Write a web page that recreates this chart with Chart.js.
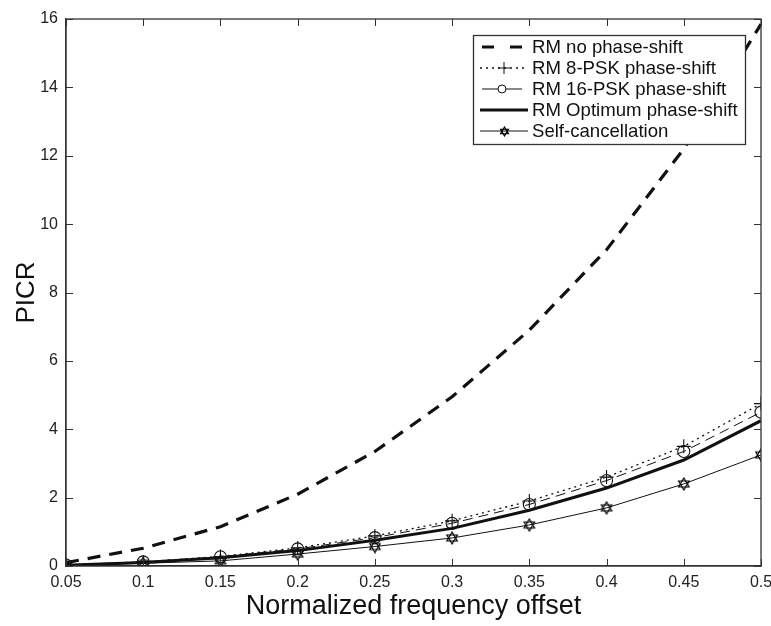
<!DOCTYPE html>
<html>
<head>
<meta charset="utf-8">
<script src="https://cdn.jsdelivr.net/npm/chart.js@4/dist/chart.umd.min.js"></script>
<style>
  html, body { margin: 0; padding: 0; background: #fff; }
</style>
</head>
<body>
<canvas id="myChart" width="771" height="626"></canvas>
<script>
const offsets = [0.05, 0.1, 0.15, 0.2, 0.25, 0.3, 0.35, 0.4, 0.45, 0.5];
const noShift = [0.1, 0.52, 1.15, 2.1, 3.35, 4.95, 6.9, 9.25, 12.2, 15.85];
const psk8 = [0.03, 0.12, 0.28, 0.53, 0.88, 1.32, 1.9, 2.6, 3.5, 4.75];
const psk16 = [0.03, 0.12, 0.27, 0.5, 0.83, 1.25, 1.8, 2.5, 3.35, 4.5];
const optimum = [0.02, 0.1, 0.24, 0.45, 0.75, 1.1, 1.63, 2.28, 3.1, 4.25];
const selfCancel = [0.02, 0.08, 0.15, 0.35, 0.57, 0.82, 1.2, 1.7, 2.4, 3.25];
const seriesNames = ['RM no phase-shift', 'RM 8-PSK phase-shift', 'RM 16-PSK phase-shift',
  'RM Optimum phase-shift', 'Self-cancellation'];
const xTicks = [0.05, 0.1, 0.15, 0.2, 0.25, 0.3, 0.35, 0.4, 0.45, 0.5];
const yTicks = [0, 2, 4, 6, 8, 10, 12, 14, 16];

const FONT = '"Liberation Sans", Arial, Helvetica, sans-serif';
const INK = '#111';

// hollow hexagram marker, used by the self-cancellation curve
function hexagram(size) {
  const c = document.createElement('canvas');
  c.width = c.height = size;
  const g = c.getContext('2d');
  const r = size / 2 - 1, cx = size / 2, cy = size / 2;
  g.strokeStyle = '#000';
  g.lineWidth = 1.2;
  [-Math.PI / 2, Math.PI / 2].forEach(rot => {
    g.beginPath();
    for (let i = 0; i < 3; i++) {
      const a = rot + i * 2 * Math.PI / 3;
      const px = cx + r * Math.cos(a), py = cy + r * Math.sin(a);
      if (i) g.lineTo(px, py); else g.moveTo(px, py);
    }
    g.closePath();
    g.stroke();
  });
  return c;
}
const star = hexagram(14);
const smallStar = hexagram(11);

const pts = vals => offsets.map((x, i) => ({ x: x, y: vals[i] }));

const datasets = [
  { label: seriesNames[0], data: pts(noShift), borderWidth: 3.2, borderDash: [13, 9], pointRadius: 0 },
  { label: seriesNames[1], data: pts(psk8), borderWidth: 1.3, borderDash: [2, 4],
    pointStyle: 'cross', pointRadius: 7, pointBorderWidth: 1.1 },
  { label: seriesNames[2], data: pts(psk16), borderWidth: 1, borderDash: [10, 6],
    pointStyle: 'circle', pointRadius: 6, pointBorderWidth: 1.1 },
  { label: seriesNames[3], data: pts(optimum), borderWidth: 3, pointRadius: 0 },
  { label: seriesNames[4], data: pts(selfCancel), borderWidth: 1, pointStyle: star, pointRadius: 7 }
].map(d => Object.assign({
  borderColor: INK, pointBorderColor: INK, pointBackgroundColor: 'rgba(0,0,0,0)',
  tension: 0, fill: false
}, d));

// box around the plot plus inward ticks on all four sides
const frame = {
  id: 'frame',
  afterDatasetsDraw(chart) {
    const { ctx, chartArea: a, scales: { x, y } } = chart;
    ctx.save();
    ctx.strokeStyle = '#333';
    ctx.lineWidth = 1.3;
    ctx.strokeRect(a.left, a.top, a.right - a.left, a.bottom - a.top);
    ctx.lineWidth = 1;
    ctx.beginPath();
    x.ticks.forEach(t => {
      const px = Math.round(x.getPixelForValue(t.value)) + 0.5;
      ctx.moveTo(px, a.bottom); ctx.lineTo(px, a.bottom - 7);
      ctx.moveTo(px, a.top); ctx.lineTo(px, a.top + 7);
    });
    y.ticks.forEach(t => {
      const py = Math.round(y.getPixelForValue(t.value)) + 0.5;
      ctx.moveTo(a.left, py); ctx.lineTo(a.left + 7, py);
      ctx.moveTo(a.right, py); ctx.lineTo(a.right - 7, py);
    });
    ctx.stroke();
    ctx.restore();
  }
};

// MATLAB style legend box in the upper right
const boxLegend = {
  id: 'boxLegend',
  afterDraw(chart) {
    const { ctx } = chart;
    const left = 473, top = 35, right = 745, bottom = 144, rowH = 21;
    ctx.save();
    ctx.fillStyle = '#fff';
    ctx.fillRect(left, top, right - left, bottom - top);
    ctx.strokeStyle = '#333';
    ctx.lineWidth = 1.3;
    ctx.strokeRect(left + 0.5, top + 0.5, right - left, bottom - top);
    ctx.font = '18.6px ' + FONT;
    ctx.textBaseline = 'middle';
    chart.data.datasets.forEach((ds, i) => {
      const yy = top + 12 + i * rowH;
      const x0 = 480, x1 = 528, xm = (x0 + x1) / 2;
      ctx.strokeStyle = INK;
      ctx.lineWidth = ds.borderWidth;
      ctx.setLineDash(ds.borderDash || []);
      ctx.beginPath();
      if (i === 0) {
        ctx.setLineDash([]);
        ctx.moveTo(x0 + 2, yy); ctx.lineTo(x0 + 14, yy);
        ctx.moveTo(x0 + 30, yy); ctx.lineTo(x0 + 42, yy);
      } else if (i === 2) {
        ctx.setLineDash([]);
        ctx.moveTo(x0 + 2, yy); ctx.lineTo(x1 - 6, yy);
      } else {
        ctx.moveTo(x0, yy); ctx.lineTo(x1, yy);
      }
      ctx.stroke();
      ctx.setLineDash([]);
      ctx.lineWidth = 1;
      if (ds.pointStyle === 'cross') {
        ctx.beginPath();
        ctx.moveTo(xm - 6, yy); ctx.lineTo(xm + 6, yy);
        ctx.moveTo(xm, yy - 6); ctx.lineTo(xm, yy + 6);
        ctx.stroke();
      } else if (ds.pointStyle === 'circle') {
        ctx.fillStyle = '#fff';
        ctx.beginPath();
        ctx.arc(xm - 2, yy, 4, 0, Math.PI * 2);
        ctx.fill(); ctx.stroke();
      } else if (ds.pointStyle === star) {
        ctx.drawImage(smallStar, Math.round(xm - 5.5), Math.round(yy - 5.5));
      }
      ctx.fillStyle = INK;
      ctx.fillText(ds.label, 532, yy + 1);
    });
    ctx.restore();
  }
};

new Chart(document.getElementById('myChart'), {
  type: 'line',
  data: { datasets: datasets },
  plugins: [frame, boxLegend],
  options: {
    responsive: false,
    animation: false,
    layout: { padding: { top: 19, right: 10, left: 0, bottom: 0 } },
    plugins: { legend: { display: false }, tooltip: { enabled: false } },
    scales: {
      x: {
        type: 'linear',
        min: 0.05,
        max: 0.5,
        afterBuildTicks: s => { s.ticks = xTicks.map(v => ({ value: v })); },
        afterFit: s => { s.height = 60; s.paddingLeft = 0; s.paddingRight = 0; },
        grid: { drawOnChartArea: false, tickLength: 0 },
        border: { color: '#333', width: 1.3 },
        ticks: { color: '#222', font: { family: FONT, size: 16 }, padding: 7, maxRotation: 0,
          callback: v => String(+v.toFixed(2)) },
        title: { display: true, text: 'Normalized frequency offset', color: INK,
          font: { family: FONT, size: 27 }, padding: { top: 0, bottom: 3 } }
      },
      y: {
        min: 0,
        max: 16,
        afterBuildTicks: s => { s.ticks = yTicks.map(v => ({ value: v })); },
        afterFit: s => { s.width = 66; s.paddingTop = 0; s.paddingBottom = 0; },
        grid: { drawOnChartArea: false, tickLength: 0 },
        border: { color: '#333', width: 1.3 },
        ticks: { color: '#222', font: { family: FONT, size: 16 }, padding: 8 },
        title: { display: true, text: 'PICR', color: INK,
          font: { family: FONT, size: 26 }, padding: { top: 11, bottom: 0 } }
      }
    }
  }
});
</script>
</body>
</html>
